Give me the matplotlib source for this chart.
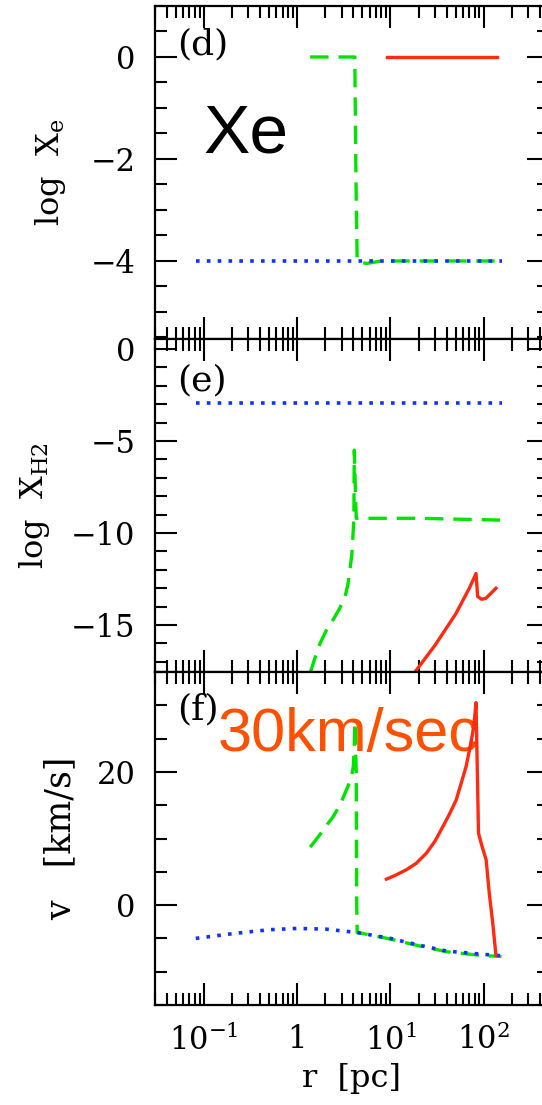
import matplotlib
matplotlib.use("Agg")
import matplotlib.pyplot as plt
from matplotlib.ticker import MultipleLocator, FixedLocator, FixedFormatter, LogLocator, NullFormatter, FuncFormatter

plt.rcParams["font.family"] = "DejaVu Serif"
plt.rcParams["mathtext.fontset"] = "dejavuserif"

green = "#00e400"
red = "#ff2a10"
blue = "#1030ff"

# panel (d): log Xe
xe_blue_r = [0.082, 155]
xe_blue_y = [-4, -4]
xe_green_r = [1.38, 4.15, 4.25, 4.3, 4.4, 5.5, 8, 155]
xe_green_y = [0, 0, -2.0, -2.8, -4.0, -4.05, -4.0, -4.0]
xe_red_r = [9.1, 138]
xe_red_y = [0, 0]

# panel (e): log X_H2
h2_blue_r = [0.082, 155]
h2_blue_y = [-2.95, -2.95]
h2_green_r = [1.38, 1.55, 1.76, 2.05, 2.44, 2.85, 3.25, 3.5, 3.68, 3.85, 3.93, 4.0, 4.06,
              4.08, 4.1, 4.2, 4.3, 20, 155]
h2_green_y = [-17.6, -16.8, -16.0, -15.3, -14.7, -14.1, -13.5, -12.8, -12.0, -11.2, -10.5, -9.8, -9.1,
              -7.0, -5.5, -7.5, -9.2, -9.2, -9.3]
h2_red_r = [18, 30, 50, 70, 82.6, 86, 95, 105, 118, 135]
h2_red_y = [-17.6, -16.1, -14.4, -13.0, -12.2, -13.45, -13.6, -13.55, -13.3, -13.0]

# panel (f): v
v_blue_r = [0.082, 0.2, 0.5, 1, 2, 4.3, 10, 20, 40, 100, 155]
v_blue_y = [-5.0, -4.3, -3.7, -3.5, -3.6, -4.1, -5.0, -6.0, -6.9, -7.4, -7.6]
v_green_r = [1.38, 1.55, 1.76, 2.05, 2.44, 2.75, 3.0, 3.3, 3.5, 3.7, 3.85, 4.0, 4.1, 4.15,
             4.3, 4.35, 4.4, 10, 20, 40, 100, 155]
v_green_y = [8.7, 9.6, 10.6, 11.9, 13.3, 14.6, 15.6, 17.0, 17.8, 18.8, 19.5, 20.8, 24.0, 27.5,
             20.0, 0.0, -4.1, -5.1, -6.1, -7.0, -7.6, -7.7]
v_red_r = [9.06, 11, 14.8, 19, 24.3, 30, 36.5, 43, 50.7, 57, 64.6, 70, 76, 80, 82.6,
           87.8, 95, 106, 114.5, 125, 135]
v_red_y = [3.9, 4.4, 5.3, 6.3, 7.8, 9.6, 11.8, 13.7, 15.8, 18.2, 20.8, 23.2, 25.8, 28.3, 30.4,
           10.8, 9.0, 6.8, 1.8, -2.8, -7.5]

xticks = [0.1, 1, 10, 100]
xticklabels = ["$10^{-1}$", "1", "$10^{1}$", "$10^{2}$"]

W, H = 542, 1105
fig = plt.figure(figsize=(W / 100, H / 100), dpi=100)

left = 155 / W
width = (549 - 155) / W
ph = 333 / H
bottoms = [1 - 339 / H, 1 - 672 / H, 1 - 1005 / H]

axes = [fig.add_axes([left, b, width, ph]) for b in bottoms]

dash = dict(color=green, lw=2.4, dashes=(5.5, 3), zorder=2)
dot = dict(color=blue, lw=2.6, dashes=(1, 2), zorder=3, dash_capstyle="butt")
solid = dict(color=red, lw=2.4, zorder=4)

ax1, ax2, ax3 = axes
ax1.plot(xe_green_r, xe_green_y, **dash)
ax1.plot(xe_blue_r, xe_blue_y, **dot)
ax1.plot(xe_red_r, xe_red_y, **solid)
ax1.set_ylim(-5.53, 1.0)
ax1.yaxis.set_major_locator(MultipleLocator(2))
ax1.yaxis.set_minor_locator(MultipleLocator(0.5))
ax1.set_ylabel("log  X$_\\mathrm{e}$", fontsize=23, labelpad=16)

ax2.plot(h2_green_r, h2_green_y, **dash)
ax2.plot(h2_blue_r, h2_blue_y, **dot)
ax2.plot(h2_red_r, h2_red_y, **solid)
ax2.set_ylim(-17.55, 0.54)
ax2.yaxis.set_major_locator(MultipleLocator(5))
ax2.yaxis.set_minor_locator(MultipleLocator(1))
ax2.set_ylabel("log  X$_\\mathrm{H2}$", fontsize=23, labelpad=14)

ax3.plot(v_green_r, v_green_y, **dash)
ax3.plot(v_blue_r, v_blue_y, **dot)
ax3.plot(v_red_r, v_red_y, **solid)
ax3.set_ylim(-15, 35)
ax3.yaxis.set_major_locator(MultipleLocator(20))
ax3.yaxis.set_minor_locator(MultipleLocator(5))
ax3.set_ylabel("v   [km/s]", fontsize=25, labelpad=14)
ax3.set_xlabel("r  [pc]", fontsize=23, labelpad=4)

for ax, lab, ytop in zip(axes, ["(d)", "(e)", "(f)"], [0.937, 0.928, 0.94]):
    ax.set_xscale("log")
    ax.set_xlim(0.03, 500)
    ax.xaxis.set_major_locator(FixedLocator(xticks))
    ax.xaxis.set_minor_locator(LogLocator(base=10, subs=range(2, 10)))
    ax.xaxis.set_minor_formatter(NullFormatter())
    ax.tick_params(which="both", direction="in", top=True, right=True, width=1.5,
                   labelsize=22, pad=14)
    ax.tick_params(which="major", length=16)
    ax.tick_params(which="minor", length=8.5)
    for s in ax.spines.values():
        s.set_linewidth(1.6)
    ax.text(0.055, ytop, lab, transform=ax.transAxes, fontsize=26, va="top", ha="left")
    if ax is not ax3:
        ax.xaxis.set_major_formatter(NullFormatter())
    ax.yaxis.set_major_formatter(FuncFormatter(
        lambda v, p: ("\u2212" + "%g" % abs(v)) if v < 0 else "%g" % v))

ax3.xaxis.set_major_formatter(FixedFormatter(xticklabels))

ax1.text(0.122, 0.56, "Xe", transform=ax1.transAxes, fontsize=50,
         family="Liberation Sans", color="black", va="baseline", ha="left", zorder=3)
ax3.text(0.16, 0.763, "30km/sec", transform=ax3.transAxes, fontsize=44,
         family="Liberation Sans", color="#ff5000", va="baseline", ha="left", zorder=3)

fig.savefig("out.png", dpi=100)
